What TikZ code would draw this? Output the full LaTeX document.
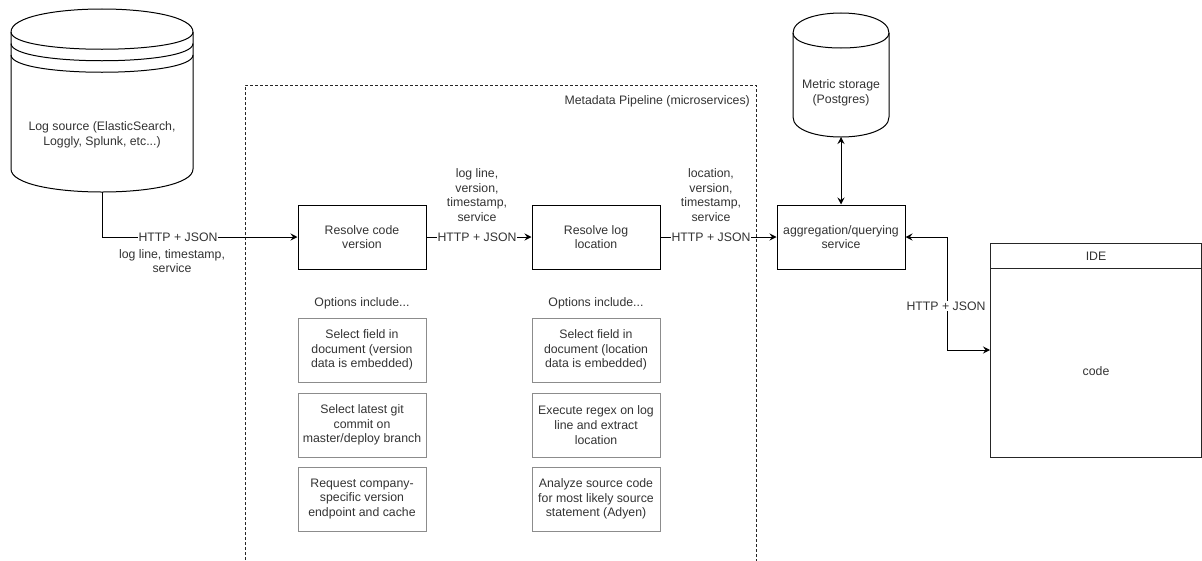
\documentclass[tikz,border=0pt]{standalone}
\usepackage{fontspec}
\setmainfont{Liberation Sans}
\usetikzlibrary{arrows.meta}

\tikzset{
  txt/.style={font=\fontsize{12.3}{14.6}\selectfont, text=black!80, align=center, inner sep=0pt},
  proc/.style={txt, draw=black, line width=1pt, minimum width=128pt, minimum height=64pt},
  optbox/.style={txt, draw=black!45, line width=1pt, minimum width=128pt, minimum height=64pt},
  lbl/.style={txt, fill=white, inner sep=1pt},
  flow/.style={draw=black, line width=1pt, ->},
  both/.style={draw=black, line width=1pt, <->},
  outline/.style={draw=black, line width=1pt},
}

\begin{document}
\begin{tikzpicture}[x=1pt,y=-1pt, >={Stealth[length=7pt,width=7pt,inset=2.5pt]}]
\useasboundingbox (0,0) rectangle (1202,560);

% pipeline group (dashed, open at the bottom)
\draw[black!85, line width=1pt, dash pattern=on 3pt off 2pt]
  (245,565) -- (245,85) -- (756,85) -- (756,565);
\node[txt, anchor=east] (pipe) at (750,101) {Metadata Pipeline (microservices)};

% log source data store
\draw[outline, fill=white]
  (11,32) .. controls (11,1.33) and (193,1.33) .. (193,32) -- (193,169)
  .. controls (193,199.67) and (11,199.67) .. (11,169) -- cycle;
\draw[outline] (11,32) .. controls (11,55) and (193,55) .. (193,32);
\draw[outline] (11,43.5) .. controls (11,66.5) and (193,66.5) .. (193,43.5);
\draw[outline] (11,55) .. controls (11,78) and (193,78) .. (193,55);
\node[txt] (logsrc) at (102,135) {Log source (ElasticSearch,\\Loggly, Splunk, etc...)};
\coordinate (logbot) at (102,192);

% metric storage cylinder
\draw[outline, fill=white]
  (793,33) .. controls (793,6.33) and (889,6.33) .. (889,33) -- (889,117)
  .. controls (889,143.67) and (793,143.67) .. (793,117) -- cycle;
\draw[outline] (793,33) .. controls (793,53) and (889,53) .. (889,33);
\node[txt] (metric) at (841,93) {Metric storage\\(Postgres)};
\coordinate (metbot) at (841,137);

% processing services
\node[proc] (codever) at (362,237) {Resolve code\\version};
\node[proc] (logloc)  at (596,237) {Resolve log\\location};
\node[proc] (agg)     at (841,237) {aggregation/querying\\service};

% option lists
\node[txt] (optA) at (362,303) {Options include...};
\node[txt] (optB) at (596,303) {Options include...};
\node[optbox] (a1) at (362,350) {Select field in\\document (version\\data is embedded)};
\node[optbox] (a2) at (362,425) {Select latest git\\commit on\\master/deploy branch};
\node[optbox] (a3) at (362,499) {Request company-\\specific version\\endpoint and cache};
\node[optbox] (b1) at (596,350) {Select field in\\document (location\\data is embedded)};
\node[optbox] (b2) at (596,425) {Execute regex on log\\line and extract\\location};
\node[optbox] (b3) at (596,499) {Analyze source code\\for most likely source\\statement (Adyen)};

% IDE panel
\draw[black!85, line width=1pt] (990,243) rectangle (1201.5,457);
\draw[black!85, line width=1pt] (990,268) -- (1201.5,268);
\node[txt] (idehead) at (1096,256) {IDE};
\node[txt] (idecode) at (1096,371) {code};
\coordinate (idewest) at (990,350);
\coordinate (bendA) at (947,237);
\coordinate (bendB) at (947,350);

% connectors
\draw[flow] (logbot) |- (codever.west);
\draw[flow] (codever.east) -- (logloc.west);
\draw[flow] (logloc.east) -- (agg.west);
\draw[both] (metbot) -- (agg.north);
\draw[both] (agg.east) -- (bendA) -- (bendB) -- (idewest);

% connector labels
\node[lbl] (h1) at (178,237) {HTTP + JSON};
\node[txt] (d1) at (172,261) {log line, timestamp,\\service};
\node[lbl] (h2) at (477,237) {HTTP + JSON};
\node[txt] (d2) at (477,195) {log line,\\version,\\timestamp,\\service};
\node[lbl] (h3) at (711,237) {HTTP + JSON};
\node[txt] (d3) at (711,195) {location,\\version,\\timestamp,\\service};
\node[lbl] (h4) at (946,306) {HTTP + JSON};
\end{tikzpicture}
\end{document}
